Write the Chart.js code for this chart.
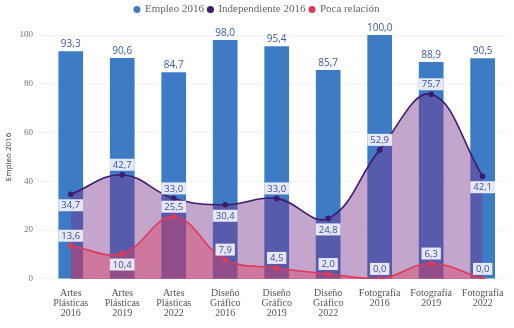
<!DOCTYPE html>
<html><head><meta charset="utf-8">
<script src="https://cdn.jsdelivr.net/npm/chart.js@4/dist/chart.umd.min.js"></script>
<style>html,body{margin:0;padding:0;background:#fff}#wrap{width:514px;height:328px}</style>
</head><body><div id="wrap"><canvas id="c" width="514" height="328"></canvas></div>
<script>
const categories = [
  ['Artes','Plásticas','2016'], ['Artes','Plásticas','2019'], ['Artes','Plásticas','2022'],
  ['Diseño','Gráfico','2016'], ['Diseño','Gráfico','2019'], ['Diseño','Gráfico','2022'],
  ['Fotografía','2016'], ['Fotografía','2019'], ['Fotografía','2022']
];
const empleo2016 = [93.3, 90.6, 84.7, 98.0, 95.4, 85.7, 100.0, 88.9, 90.5];
const independiente2016 = [34.7, 42.7, 33.0, 30.4, 33.0, 24.8, 52.9, 75.7, 42.1];
const pocaRelacion = [13.6, 10.4, 25.5, 7.9, 4.5, 2.0, 0.0, 6.3, 0.0];
const yTicks = [0, 20, 40, 60, 80, 100];
// label placement (style config, not data)
const indepAlign = ['below','above','above','below','above','below','above','above','below'];
const pocaAlign = ['above','below','above','above','above','above','above','above','above'];

const fmt = v => v.toFixed(1).replace('.', ',');
const SANS = '"Open Sans", "DejaVu Sans", sans-serif';
const SERIF = '"Liberation Serif", "DejaVu Serif", serif';

const legendSpace = {
  id: 'legendSpace',
  afterInit(chart) {
    const lg = chart.legend;
    if (!lg) return;
    const orig = lg.fit;
    lg.fit = function () { orig.call(this); this.height += 10; };
  }
};

const labelPlugin = {
  id: 'labels',
  afterDatasetsDraw(chart) {
    const ctx = chart.ctx;
    ctx.save();
    const mb = chart.getDatasetMeta(0);
    ctx.font = '10px ' + SANS;
    ctx.fillStyle = '#3b5aa3';
    ctx.textAlign = 'center';
    ctx.textBaseline = 'bottom';
    mb.data.forEach((el, i) => {
      ctx.fillText(fmt(empleo2016[i]), el.x, el.y - 2);
    });
    const drawBoxes = (dsIndex, values, align) => {
      const m = chart.getDatasetMeta(dsIndex);
      ctx.font = '9.5px ' + SANS;
      ctx.textBaseline = 'middle';
      m.data.forEach((el, i) => {
        const t = fmt(values[i]);
        const w = ctx.measureText(t).width + 6;
        const h = 12;
        const cy = align[i] === 'above' ? el.y - 10 : el.y + 11;
        ctx.fillStyle = 'rgba(242,242,250,0.92)';
        ctx.fillRect(el.x - w / 2, cy - h / 2, w, h);
        ctx.fillStyle = '#3b4f9c';
        ctx.fillText(t, el.x, cy + 0.5);
      });
    };
    drawBoxes(1, independiente2016, indepAlign);
    drawBoxes(2, pocaRelacion, pocaAlign);
    ctx.restore();
  }
};

new Chart(document.getElementById('c'), {
  type: 'bar',
  data: {
    labels: categories,
    datasets: [
      {
        type: 'bar', label: 'Empleo 2016', data: empleo2016,
        backgroundColor: '#3d7cc4', borderWidth: 0, order: 3,
        categoryPercentage: 0.8, barPercentage: 0.6
      },
      {
        type: 'line', label: 'Independiente 2016', data: independiente2016,
        borderColor: '#3f1a6e', backgroundColor: 'rgba(121,51,139,0.44)',
        pointBackgroundColor: '#3f1a6e', pointBorderColor: '#3f1a6e',
        pointRadius: 2, borderWidth: 1.6, tension: 0.4, fill: 'origin', order: 2
      },
      {
        type: 'line', label: 'Poca relación', data: pocaRelacion,
        borderColor: '#de3a5c', backgroundColor: 'rgba(222,60,92,0.42)',
        pointBackgroundColor: '#de3a5c', pointBorderColor: '#de3a5c',
        pointRadius: 2, borderWidth: 1.6, tension: 0.4, fill: 'origin', order: 1
      }
    ]
  },
  options: {
    responsive: false,
    animation: false,
    devicePixelRatio: 1,
    layout: { padding: { top: 0, right: 0, bottom: 8, left: 0 } },
    plugins: {
      legend: {
        position: 'top',
        labels: {
          usePointStyle: true, pointStyle: 'circle', boxWidth: 5, boxHeight: 5,
          padding: 4, color: '#666', font: { family: SERIF, size: 11 },
          sort: (a, b) => a.datasetIndex - b.datasetIndex,
          generateLabels: (chart) => chart.data.datasets.map((d, i) => ({
            text: d.label, datasetIndex: i,
            fillStyle: i === 0 ? '#3d7cc4' : d.borderColor,
            strokeStyle: i === 0 ? '#3d7cc4' : d.borderColor,
            lineWidth: 0, pointStyle: 'circle', hidden: false, fontColor: '#666'
          }))
        }
      },
      tooltip: { enabled: false }
    },
    scales: {
      x: {
        grid: { display: false },
        border: { display: false },
        ticks: {
          color: '#555', font: { family: SERIF, size: 10, lineHeight: 0.97 },
          padding: 2, maxRotation: 0, autoSkip: false
        }
      },
      y: {
        min: 0, max: 100,
        afterBuildTicks: (s) => { s.ticks = yTicks.map(v => ({ value: v })); },
        afterFit: (s) => { s.width = 45; },
        grid: { color: '#ececec', tickLength: 7, tickColor: '#f0f0f0', drawTicks: true },
        border: { display: false, dash: [2, 2] },
        ticks: { color: '#777', font: { family: SERIF, size: 9 }, padding: 5 },
        title: {
          display: true, text: 'Empleo 2016', color: '#333',
          font: { family: SANS, size: 8 }, padding: { top: 4, bottom: 0 }
        }
      }
    }
  },
  plugins: [legendSpace, labelPlugin]
});
</script>
</body></html>
